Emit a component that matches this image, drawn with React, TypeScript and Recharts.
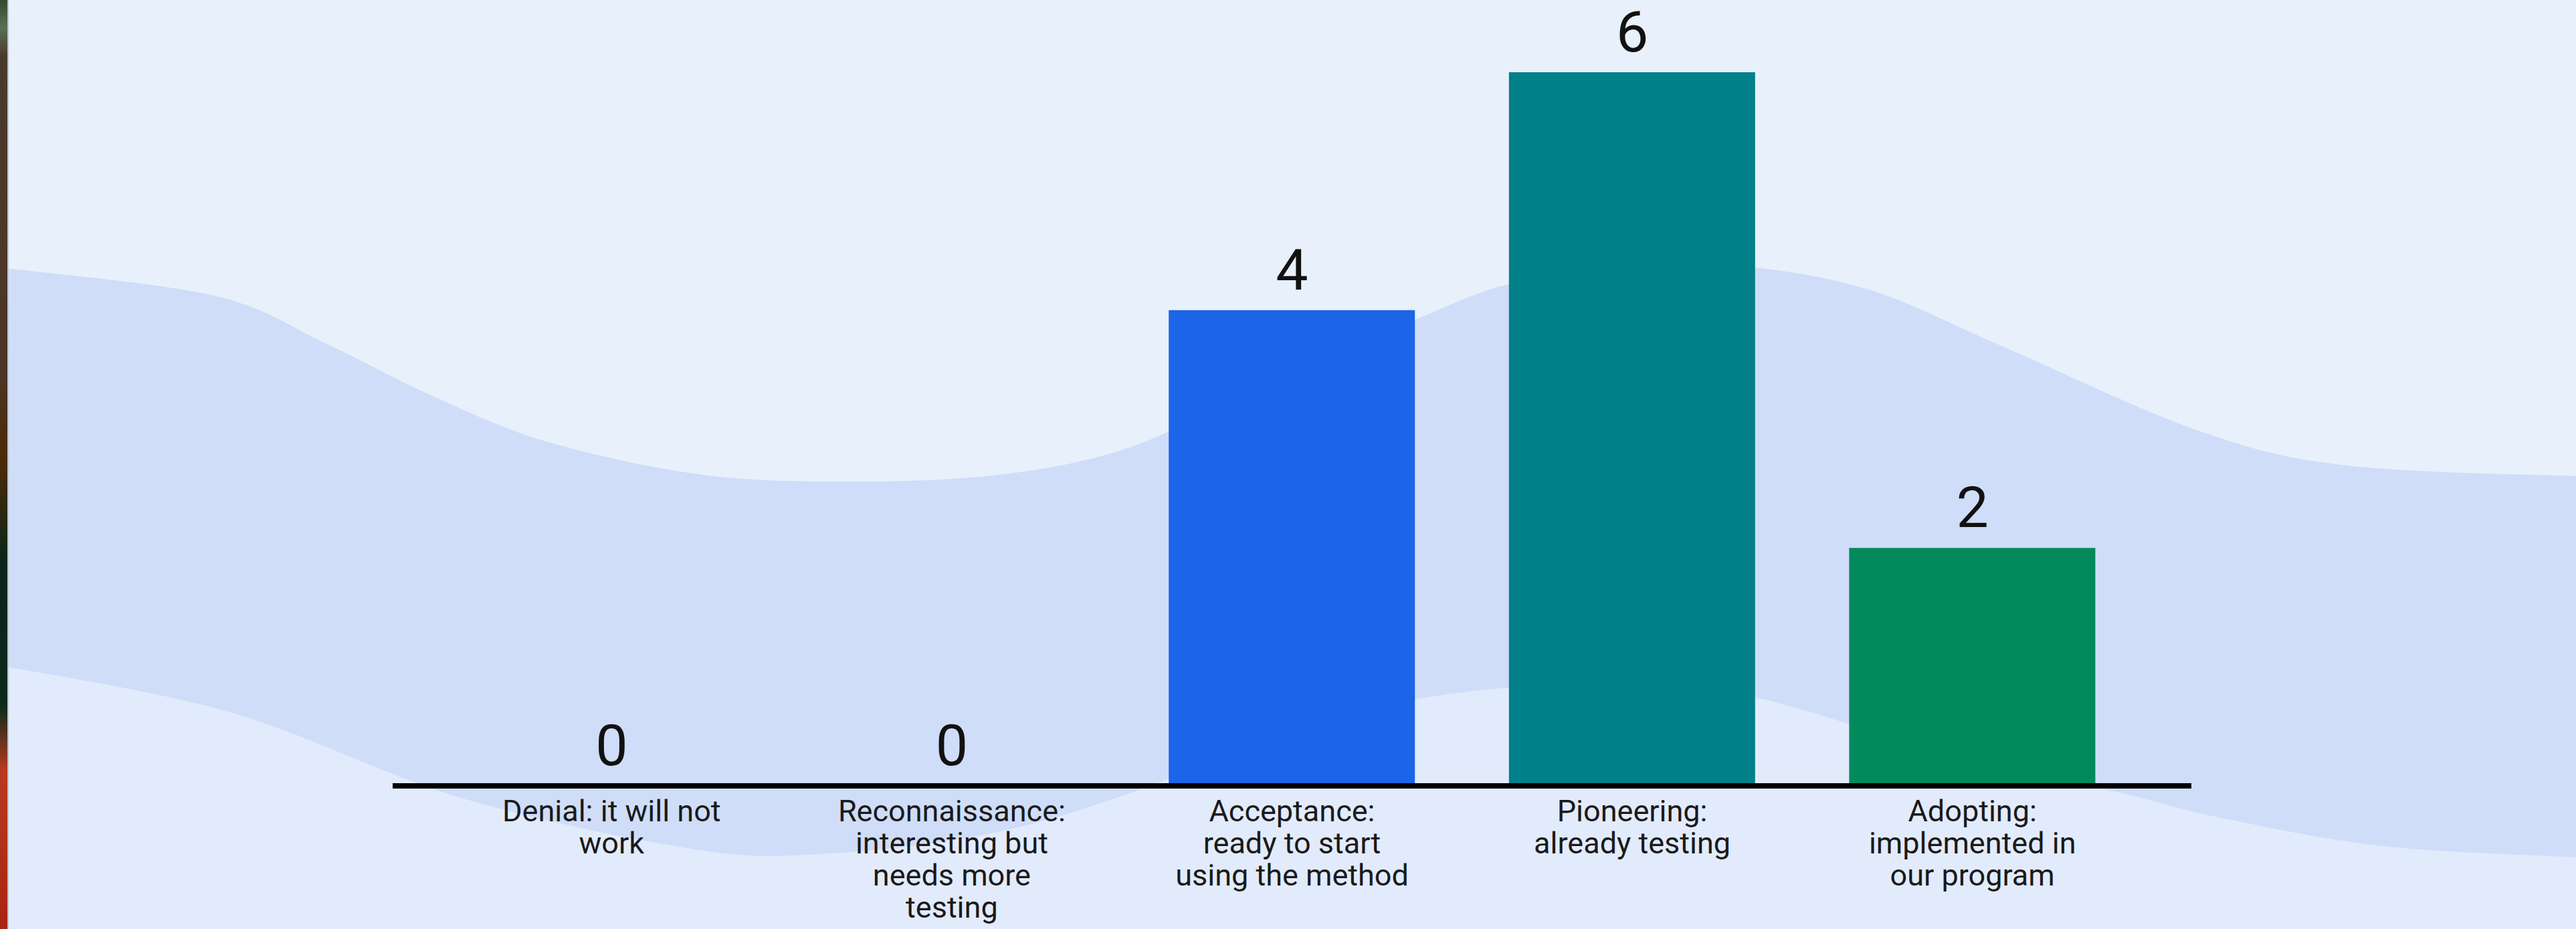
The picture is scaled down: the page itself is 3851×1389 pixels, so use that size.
import React from "react";
import {
  ComposedChart,
  Bar,
  Line,
  XAxis,
  YAxis,
  Cell,
  LabelList,
} from "recharts";

const W = 3851;
const H = 1389;

// stage names, line breaks as on the slide
const stages = [
  "Denial: it will not\nwork",
  "Reconnaissance:\ninteresting but\nneeds more\ntesting",
  "Acceptance:\nready to start\nusing the method",
  "Pioneering:\nalready testing",
  "Adopting:\nimplemented in\nour program",
];
const votes = [0, 0, 4, 6, 2];
const stageColors = ["#1C64E8", "#1C64E8", "#1C64E8", "#02808A", "#028A5C"];

const data = stages.map((stage, i) => ({ stage, votes: votes[i] }));

// background wave (decoration only)
const waveTop: number[][] = [
  [0, 400], [320, 442], [490, 515], [640, 589], [810, 658], [1030, 707],
  [1228, 720], [1474, 712], [1670, 675], [1842, 600], [2000, 520],
  [2115, 478], [2255, 425], [2450, 396], [2623, 400], [2800, 435],
  [2994, 518], [3287, 644], [3508, 696], [3851, 712],
];
const waveBottom: number[][] = [
  [0, 995], [344, 1065], [689, 1193], [1033, 1269], [1228, 1277],
  [1492, 1244], [1722, 1174], [1900, 1095], [2150, 1040], [2400, 1022],
  [2600, 1040], [2700, 1063], [2920, 1130], [3168, 1185], [3316, 1222],
  [3561, 1265], [3851, 1282],
];

const smooth = (pts: number[][], start = true) => {
  let d = start ? `M${pts[0][0]},${pts[0][1]}` : `L${pts[0][0]},${pts[0][1]}`;
  for (let i = 0; i < pts.length - 1; i++) {
    const p0 = pts[i - 1] || pts[i];
    const p1 = pts[i];
    const p2 = pts[i + 1];
    const p3 = pts[i + 2] || p2;
    const c1x = p1[0] + (p2[0] - p0[0]) / 6;
    const c1y = p1[1] + (p2[1] - p0[1]) / 6;
    const c2x = p2[0] - (p3[0] - p1[0]) / 6;
    const c2y = p2[1] - (p3[1] - p1[1]) / 6;
    d += ` C${c1x},${c1y} ${c2x},${c2y} ${p2[0]},${p2[1]}`;
  }
  return d;
};

const bandPath =
  smooth(waveTop) + " " + smooth([...waveBottom].reverse(), false) + " Z";
const lowerPath = smooth(waveBottom) + ` L${W},${H} L0,${H} Z`;

const StageTick = ({ x, y, payload }: any) => {
  const lines = String(payload.value).split("\n");
  return (
    <text
      x={x}
      y={y}
      textAnchor="middle"
      fill="#1a1a1a"
      fontSize={45}
      fontFamily="Roboto"
    >
      {lines.map((line, i) => (
        <tspan key={i} x={x} dy={i === 0 ? 53 : 48}>
          {line}
        </tspan>
      ))}
    </text>
  );
};

export default function App() {
  return (
    <div
      style={{
        position: "absolute",
        top: 0,
        left: 0,
        width: W,
        height: H,
        overflow: "hidden",
        background: "#E8F0FC",
      }}
    >
      <svg width={W} height={H} style={{ position: "absolute", top: 0, left: 0 }}>
        <path d={lowerPath} fill="#E2EBFC" />
        <path d={bandPath} fill="#CFDDF8" />
      </svg>
      <div
        style={{
          position: "absolute",
          top: 0,
          left: 0,
          width: 11,
          height: H,
          borderRight: "2px solid #b9c2cc",
          background:
            "linear-gradient(180deg, #2f4a2e 0%, #5a7055 3%, #4a3a2c 6%, #4d3526 40%, #4a2a08 50%, #0c2419 60%, #0a2a1c 76%, #b83a20 83%, #a82412 100%)",
        }}
      />
      <div style={{ position: "absolute", top: 0, left: 0 }}>
        <ComposedChart
          width={W}
          height={H}
          data={data}
          margin={{ top: 108, right: 575, left: 587, bottom: 14 }}
        >
          <XAxis
            dataKey="stage"
            axisLine={{ stroke: "#000", strokeWidth: 8 }}
            tickLine={false}
            tickSize={0}
            tickMargin={0}
            interval={0}
            height={200}
            padding={{ left: 73, right: 73 }}
            tick={<StageTick />}
          />
          <YAxis hide domain={[0, 6]} />
          <Bar dataKey="votes" barSize={368} isAnimationActive={false}>
            {data.map((d, i) => (
              <Cell key={d.stage} fill={stageColors[i]} />
            ))}
          </Bar>
          {/* invisible series carrying the value labels, so the zeros show too */}
          <Line
            dataKey="votes"
            stroke="none"
            dot={false}
            activeDot={false}
            isAnimationActive={false}
          >
            <LabelList
              dataKey="votes"
              position="top"
              offset={31}
              fill="#111"
              fontSize={86}
              fontFamily="Roboto"
            />
          </Line>
        </ComposedChart>
      </div>
    </div>
  );
}
